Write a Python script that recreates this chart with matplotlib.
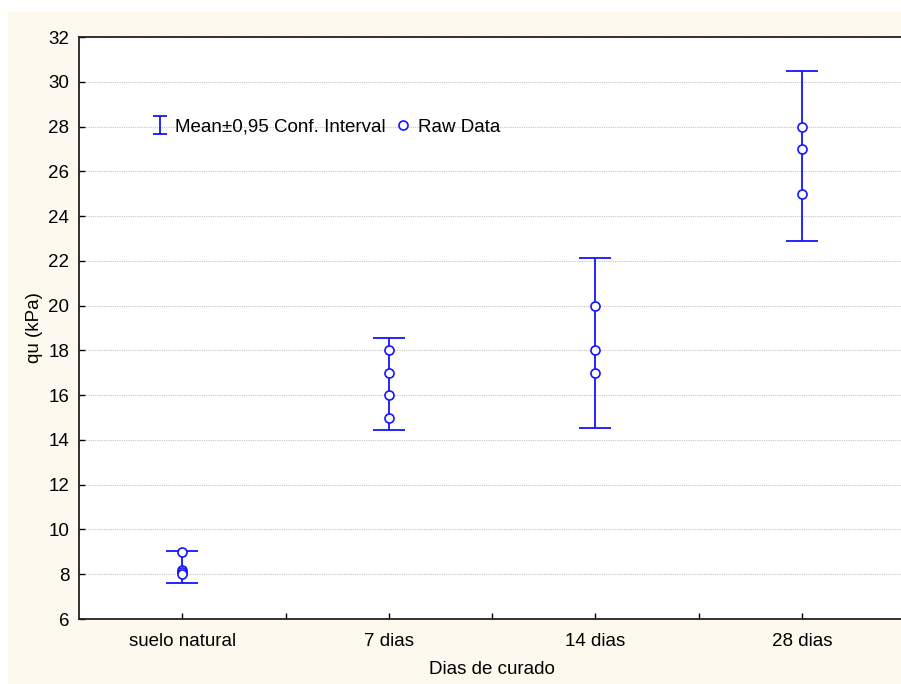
import matplotlib
matplotlib.use('Agg')
import matplotlib.pyplot as plt
from matplotlib.patches import Rectangle
import numpy as np

plt.rcParams['font.family'] = ['Liberation Sans', 'DejaVu Sans']

# categorias y datos
categorias = ['suelo natural', '7 dias', '14 dias', '28 dias']
raw_suelo = [9.0, 8.2, 8.1, 8.0]
raw_7 = [15.0, 16.0, 17.0, 18.0]
raw_14 = [17.0, 18.0, 20.0]
raw_28 = [25.0, 27.0, 28.0]
raw_data = [raw_suelo, raw_7, raw_14, raw_28]
# intervalo de confianza 95% (limites leidos)
ci_low = [7.6, 14.45, 14.54, 22.87]
ci_high = [9.05, 18.55, 22.13, 30.46]

azul = '#1414ff'
fs = 13.5

fig = plt.figure(figsize=(9.01, 6.84), dpi=100)
fig.patch.set_facecolor('white')
fondo = Rectangle((8 / 901, 0), 1, 1 - 12 / 684, transform=fig.transFigure,
                  facecolor='#fef9ee', edgecolor='none', zorder=-10)
fig.add_artist(fondo)

ax = fig.add_axes([79 / 901, 65 / 684, 826 / 901, 582 / 684])
ax.set_facecolor('white')

x = np.arange(len(categorias))
mid = [(lo + hi) / 2 for lo, hi in zip(ci_low, ci_high)]
err = [[m - lo for m, lo in zip(mid, ci_low)], [hi - m for m, hi in zip(mid, ci_high)]]
ax.errorbar(x, mid, yerr=err, fmt='none', ecolor=azul, elinewidth=1.3,
            capsize=11.5, capthick=1.3, zorder=3)

for i, vals in enumerate(raw_data):
    pts, = ax.plot([x[i]] * len(vals), vals, 'o', ms=6.5, mfc='white', mec=azul,
                   mew=1.2, ls='none', zorder=4)
pts.set_label('Raw Data')

# handle pequeño solo para la leyenda
ley = ax.errorbar([np.nan], [np.nan], yerr=[1], fmt='none', ecolor=azul,
                  elinewidth=1.3, capsize=5, capthick=1.3,
                  label='Mean\u00b10,95 Conf. Interval')

ax.set_xlim(-0.5, 3.5)
ax.set_ylim(6, 32)
ax.set_yticks(np.arange(6, 33, 2))
ax.set_xticks(x)
ax.set_xticklabels(categorias)
ax.set_xticks([0.5, 1.5, 2.5], minor=True)
ax.yaxis.grid(True, color='#c4c4c4', ls=(0, (1, 1)), lw=0.8)
ax.set_axisbelow(True)

ax.tick_params(axis='both', which='both', direction='in', length=4, width=1,
               labelsize=fs, colors='black')
ax.tick_params(axis='x', pad=10)
ax.tick_params(axis='y', pad=7)
for s in ax.spines.values():
    s.set_linewidth(1.3)
    s.set_color('#222222')

ax.set_xlabel('Dias de curado', fontsize=fs, labelpad=8)
ax.set_ylabel('qu (kPa)', fontsize=fs, labelpad=4)

ax.legend(handles=[ley, pts], loc='upper left', bbox_to_anchor=(0.078, 0.876),
          ncol=2, frameon=False, fontsize=fs, handlelength=0.8, handletextpad=0.4,
          columnspacing=0.5, borderpad=0)

fig.savefig('out.png', dpi=100, facecolor=fig.get_facecolor())
